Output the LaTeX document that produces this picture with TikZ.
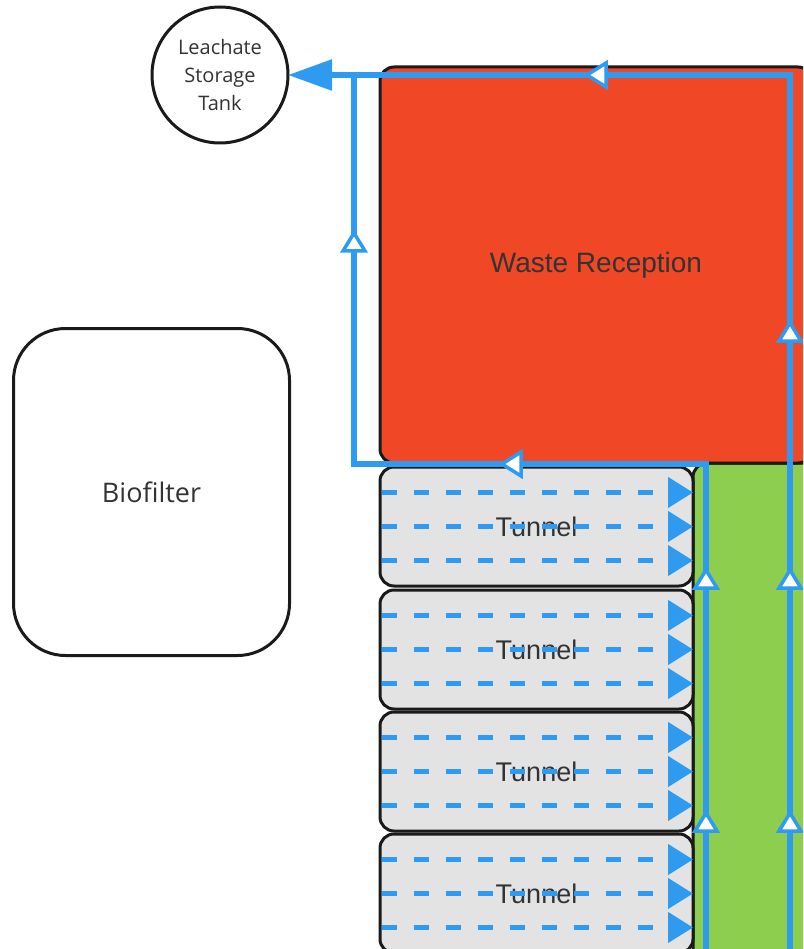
\documentclass[tikz,border=0pt]{standalone}
\usepackage{fontspec}
\setmainfont{Liberation Sans}
\newfontfamily\opensans{Open Sans}
\usetikzlibrary{arrows.meta,calc}
\definecolor{pipe}{HTML}{2E9BF0}
\definecolor{wred}{HTML}{F04826}
\definecolor{wgreen}{HTML}{8ECE4E}
\definecolor{tgray}{HTML}{E3E3E3}
\definecolor{txt}{HTML}{333333}
\definecolor{edge}{HTML}{1A1A1A}
\tikzset{
  box/.style={draw=edge, line width=3pt, rounded corners=14pt, inner sep=0pt, outer sep=0pt, anchor=north west, text=txt},
  tunnelbox/.style={box, fill=tgray, minimum width=313pt, minimum height=119pt, font=\fontsize{27}{32}\selectfont},
  flow/.style={pipe, line width=4.5pt, dash pattern=on 15pt off 17pt, -{Triangle[length=25pt,width=30pt]}},
  mainpipe/.style={pipe, line width=5.5pt},
  tri/.style={draw=pipe, fill=white, line width=3.5pt, line join=miter},
  otriU/.pic={\draw[tri] (0,-10) -- (11,8) -- (-11,8) -- cycle;},
  otriL/.pic={\draw[tri] (-10,0) -- (9,-12) -- (9,12) -- cycle;}
}
\begin{document}
\begin{tikzpicture}[x=1pt,y=-1pt]
\useasboundingbox (0,0) rectangle (803,949);
\clip (0,0) rectangle (803,949);
% green area
\node[box, fill=wgreen, minimum width=160pt, minimum height=520pt] (green) at (693,463) {};
% waste reception
\node[box, fill=wred, minimum width=432pt, minimum height=396pt, font=\fontsize{28}{34}\selectfont] (waste) at (380,67) {Waste Reception};
% tunnels
\node[tunnelbox] (t1) at (380,467) {Tunnel};
\node[tunnelbox] (t2) at (380,590) {Tunnel};
\node[tunnelbox] (t3) at (380,712) {Tunnel};
\node[tunnelbox] (t4) at (380,834) {Tunnel};
% dashed flows
\foreach \t in {t1,t2,t3,t4}{
  \foreach \d in {-34,0,34}{
    \draw[flow] ($(\t.west)+(2,\d)$) -- ($(\t.east)+(0,\d)$);
  }
}
% biofilter
\node[draw=edge, line width=3pt, rounded corners=52pt, minimum width=276pt, minimum height=327pt, inner sep=0pt, anchor=north west, text=txt, font=\opensans\fontsize{27}{32}\selectfont] (bio) at (12,327) {Biofilter};
% leachate tank
\node[draw=edge, line width=3pt, circle, minimum size=136pt, inner sep=0pt, outer sep=0pt, fill=white, text=txt, align=center, font=\opensans\fontsize{20}{28}\selectfont] (tank) at (220,75) {Leachate\\Storage\\Tank};
% pipes
\coordinate (a0) at (706,955);
\coordinate (a1) at (706,464);
\coordinate (a2) at (354,464);
\coordinate (a3) at (354,75);
\coordinate (b0) at (790,955);
\coordinate (b1) at (790,75);
\draw[mainpipe, line join=miter] (a0) -- (a1) -- (a2) -- (a3);
\draw[mainpipe, line join=miter, -{Triangle[length=44pt,width=30pt]}] (b0) -- (b1) -- (tank.east);
% direction markers
\pic at (597,75) {otriL};
\pic at (512,464) {otriL};
\pic at (354,243) {otriU};
\pic at (790,333) {otriU};
\pic at (706,580) {otriU};
\pic at (790,580) {otriU};
\pic at (706,823) {otriU};
\pic at (790,823) {otriU};
\end{tikzpicture}
\end{document}
